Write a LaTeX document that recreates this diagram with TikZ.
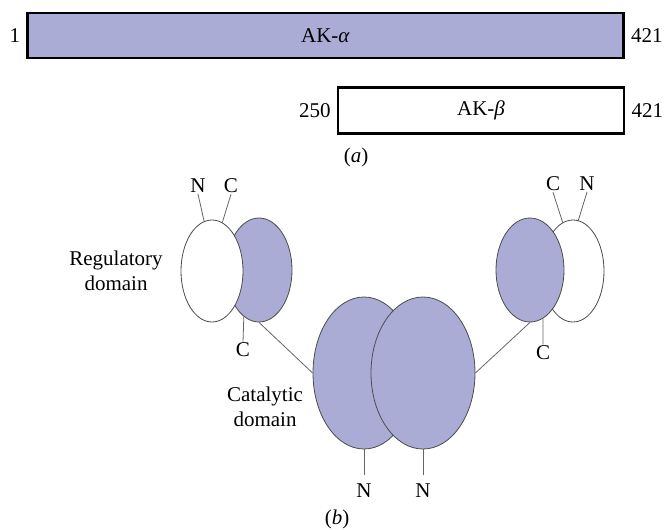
\documentclass[tikz,border=0pt]{standalone}
\usepackage{fontspec}
\setmainfont{Liberation Serif}
\usetikzlibrary{shapes.geometric}
\definecolor{akblue}{RGB}{170,172,214}
\tikzset{
	bar/.style={draw=black, line width=2.6pt, inner sep=0pt},
	dom/.style={ellipse, draw=black!70, line width=0.8pt, inner sep=0pt},
	lab/.style={inner sep=1pt},
	link/.style={draw=black!60, line width=0.8pt},
}

\begin{document}
\begin{tikzpicture}[x=1pt, y=-1pt, font=\fontsize{21}{25}\selectfont]
			%%%%% START %%%%%
			\useasboundingbox (0,0) rectangle (664,530);
			
			\node[bar, fill=akblue, minimum width=596pt, minimum height=45pt] (akA) at (325.5,35.5) {AK-\textit{α}};
			\node[lab, anchor=east] (aFirst) at ([xshift=-5pt]akA.west) {1};
			\node[lab, anchor=west] (aLast) at ([xshift=5pt]akA.east) {421};
			
			\node[bar, fill=white, minimum width=286pt, minimum height=46pt] (akB) at (481,110.5) {AK-\textit{β}};
			\node[lab, anchor=east] (bFirst) at ([xshift=-5pt]akB.west) {250};
			\node[lab, anchor=west] (bLast) at ([xshift=5pt]akB.east) {421};
			
			\node[lab] (capA) at (356,157) {(\textit{a})};
			
			% regulatory domains
			\node[dom, fill=akblue, minimum width=66pt, minimum height=104pt] (regP) at (259,270) {};
			\node[dom, fill=white, minimum width=62pt, minimum height=102pt] (regW) at (212,271) {};
			
			\node[dom, fill=white, minimum width=62pt, minimum height=102pt] (rgtW) at (573,271) {};
			\node[dom, fill=akblue, minimum width=68pt, minimum height=104pt] (rgtP) at (530,270) {};
			
			\node[lab, align=center] (regTxt) at (116,271) {Regulatory\\domain};
			
			\node[lab] (regN) at (198,186) {N};
			\node[lab] (regC) at (231,186) {C};
			\node[lab] (regCb) at (243,350) {C};
			\draw[link] (regW.99) -- (regN.south);
			\draw[link] (regW.78) -- (regC.south);
			\draw[link] (regP.252) -- (regCb.north);
			
			\node[lab] (rgtC) at (553,184) {C};
			\node[lab] (rgtN) at (587,184) {N};
			\node[lab] (rgtCb) at (543,353) {C};
			\draw[link] (rgtW.102) -- (rgtC.south);
			\draw[link] (rgtW.84) -- (rgtN.south);
			\draw[link] (rgtP.285) -- (rgtCb.north);
			
			% catalytic domains
			\node[dom, fill=akblue, minimum width=102pt, minimum height=152pt] (catL) at (364,373) {};
			\node[dom, fill=akblue, minimum width=104pt, minimum height=152pt] (catR) at (423,373) {};
			
			\node[lab, align=center] (catTxt) at (265,407) {Catalytic\\domain};
			
			\node[lab] (catN1) at (364,491) {N};
			\node[lab] (catN2) at (423,491) {N};
			\draw[link, shorten >=8pt] (catL.south) -- (catN1.north);
			\draw[link, shorten >=8pt] (catR.south) -- (catN2.north);
			
			\draw[link] (regP.south) -- (catL.west);
			\draw[link] (rgtP.south) -- (catR.east);
			
			\node[lab] (capB) at (337,519) {(\textit{b})};
			%%%%% END %%%%%
\end{tikzpicture}
\end{document}
